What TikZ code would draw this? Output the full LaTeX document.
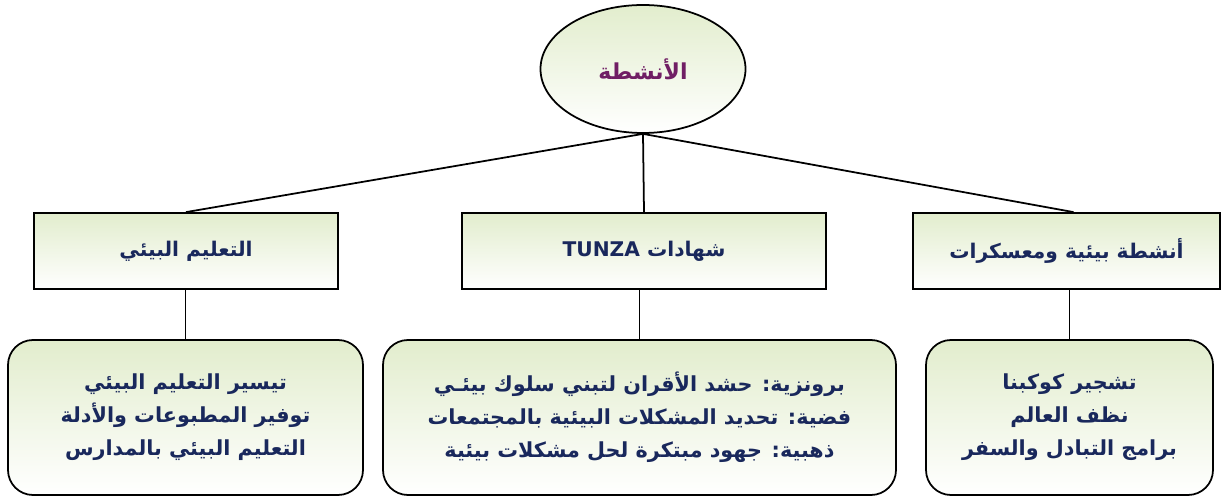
\documentclass[tikz,border=0pt]{standalone}
\usepackage{fontspec}
\newfontfamily\arabicfont[Script=Arabic]{DejaVu Sans}
\TeXXeTstate=1
\usetikzlibrary{shapes.geometric}
\definecolor{leafgreen}{RGB}{226,237,205}
\definecolor{inknavy}{RGB}{25,40,92}
\definecolor{plum}{RGB}{112,30,100}
\begin{document}
\begin{tikzpicture}[
    headbox/.style = {draw, line width = 1pt, top color = leafgreen, bottom color = white,
                      minimum height = 1.52cm, text = inknavy,
                      font = \arabicfont\bfseries\fontsize{11.5}{14}\selectfont},
    listbox/.style = {draw, line width = 1pt, rounded corners = .5cm,
                      top color = leafgreen, bottom color = white,
                      minimum height = 3.1cm, align = center, text = inknavy,
                      font = \arabicfont\bfseries\fontsize{11.8}{18.8}\selectfont}
  ]
    \useasboundingbox (0,0) rectangle (24.42,-9.94);
    % top
    \node [ellipse, draw, line width = 1pt, top color = leafgreen, bottom color = white,
           minimum width = 4.1cm, minimum height = 2.56cm, text = plum,
           font = \arabicfont\bfseries\fontsize{12.5}{15}\selectfont]
      (act) at (12.86,-1.38) {\beginR الأنشطة\endR};
    % second row
    \node [headbox, minimum width = 6.08cm] (edu) at (3.72,-5.02)
      {\beginR التعليم البيئي\endR};
    \node [headbox, minimum width = 7.28cm] (tunza) at (12.88,-5.02)
      {\beginR شهادات \beginL TUNZA\endL\endR};
    \node [headbox, minimum width = 6.14cm] (camps) at (21.33,-5.02)
      {\beginR أنشطة بيئية ومعسكرات\endR};
    % lists
    \node [listbox, minimum width = 7.1cm] (edulist) at (3.71,-8.35)
      {\beginR تيسير التعليم البيئي\endR\\
       \beginR توفير المطبوعات والأدلة\endR\\
       \beginR التعليم البيئي بالمدارس\endR};
    \node [listbox, minimum width = 10.26cm] (tunzalist) at (12.79,-8.35)
      {\beginR برونزية: حشد الأقران لتبني سلوك بيئـي\endR\\
       \beginR فضية: تحديد المشكلات البيئية بالمجتمعات\endR\\
       \beginR ذهبية: جهود مبتكرة لحل مشكلات بيئية\endR};
    \node [listbox, minimum width = 5.74cm] (campslist) at (21.39,-8.35)
      {\beginR تشجير كوكبنا\endR\\
       \beginR نظف العالم\endR\\
       \beginR برامج التبادل والسفر\endR};
    % connectors
    \draw [line width = 1pt] (act.south) -- (edu.north);
    \draw [line width = 1pt] (act.south) -- (tunza.north);
    \draw [line width = 1pt] (act.south) -- ([xshift = .14cm]camps.north);
    \draw [line width = 1pt] (edulist.north) -- (edulist.north |- edu.south);
    \draw [line width = 1pt] (tunzalist.north) -- (tunzalist.north |- tunza.south);
    \draw [line width = 1pt] (campslist.north) -- (campslist.north |- camps.south);
\end{tikzpicture}
\end{document}
